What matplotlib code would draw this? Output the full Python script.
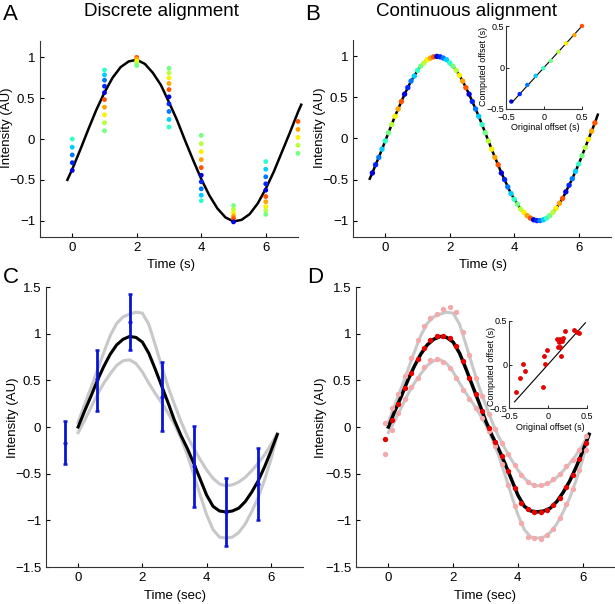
import numpy as np
import matplotlib
matplotlib.use("Agg")
import matplotlib.pyplot as plt

plt.rcParams['font.family'] = ['Liberation Sans', 'DejaVu Sans']

W, H = 615, 604

# ten shifted copies of the signal, one jet colour each
offsets = [-0.4, -0.3, -0.2, -0.1, 0.0, 0.1, 0.2, 0.3, 0.4, 0.5]
jet = plt.cm.jet(np.linspace(0.08, 0.82, len(offsets)))

# --- A: discrete alignment ---
a_line_t = [-0.15, 0, 0.25, 0.5, 0.75, 1.0, 1.25, 1.5, 1.75, 2.0, 2.25, 2.5, 2.75,
            3.0, 3.25, 3.5, 3.75, 4.0, 4.25, 4.5, 4.75, 5.0, 5.25, 5.5, 5.75,
            6.0, 6.25, 6.5, 6.75, 7.0, 7.1]
a_line_y = [-0.50, -0.37, -0.13, 0.12, 0.36, 0.57, 0.75, 0.88, 0.95, 0.97, 0.92,
            0.81, 0.66, 0.45, 0.23, -0.02, -0.26, -0.49, -0.69, -0.85, -0.96,
            -1.01, -0.99, -0.92, -0.79, -0.61, -0.40, -0.16, 0.08, 0.33, 0.42]
a_times = [0, 1, 2, 3, 4, 5, 6, 7]
a_vals = [
    [0.00, -0.10, -0.195, -0.29, -0.385],
    [0.845, 0.785, 0.72, 0.646, 0.568, 0.483, 0.39, 0.296, 0.199, 0.101],
    [1.00, 0.98, 0.955, 0.93, 0.90],
    [0.866, 0.809, 0.748, 0.68, 0.605, 0.516, 0.43, 0.337, 0.239, 0.146],
    [0.044, -0.057, -0.155, -0.252, -0.35, -0.444, -0.524, -0.61, -0.688, -0.756],
    [-0.815, -0.86, -0.905, -0.945, -0.975, -1.015],
    [-0.277, -0.37, -0.463, -0.549, -0.627, -0.704, -0.768, -0.829, -0.878, -0.923],
    [0.215, 0.117, 0.02, -0.078, -0.176],
]
a_cidx = [
    [4, 3, 2, 1, 0],
    [4, 3, 2, 1, 0, 9, 8, 7, 6, 5],
    [9, 8, 7, 6, 5],
    [5, 6, 7, 8, 9, 0, 1, 2, 3, 4],
    [5, 6, 7, 8, 9, 0, 1, 2, 3, 4],
    [5, 6, 7, 8, 9, 0],
    [4, 3, 2, 1, 0, 9, 8, 7, 6, 5],
    [9, 8, 7, 6, 5],
]

# --- B: continuous alignment ---
b_times = [0, 1, 2, 3, 4, 5, 6]
b_dot_y = [
    -0.42, -0.32, -0.23, -0.13, -0.03, 0.07, 0.17, 0.27, 0.36, 0.45,
    0.54, 0.62, 0.70, 0.76, 0.83, 0.88, 0.92, 0.96, 0.98, 0.995,
    1.00, 0.995, 0.98, 0.96, 0.92, 0.88, 0.83, 0.77, 0.70, 0.62,
    0.54, 0.45, 0.36, 0.27, 0.17, 0.07, -0.03, -0.13, -0.23, -0.32,
    -0.42, -0.50, -0.59, -0.67, -0.74, -0.80, -0.86, -0.90, -0.94, -0.97,
    -0.99, -1.00, -1.00, -0.99, -0.97, -0.94, -0.90, -0.85, -0.79, -0.73,
    -0.65, -0.57, -0.49, -0.40, -0.31, -0.21, -0.11, -0.01, 0.09, 0.19,
]
b_start = (-0.48, -0.49)
b_end = (6.59, 0.29)
b_orig = [-0.43, -0.32, -0.22, -0.11, -0.01, 0.09, 0.19, 0.29, 0.40, 0.50]
b_comp = [-0.41, -0.32, -0.21, -0.10, -0.01, 0.08, 0.19, 0.29, 0.39, 0.50]

# --- C / D: shared mean and bounds ---
grid_t = [0.0, 0.2, 0.4, 0.6, 0.8, 1.0, 1.2, 1.4, 1.6, 1.8, 2.0, 2.2, 2.4, 2.6,
          2.8, 3.0, 3.2, 3.4, 3.6, 3.8, 4.0, 4.2, 4.4, 4.6, 4.8, 5.0, 5.2, 5.4,
          5.6, 5.8, 6.0, 6.2]
mean_y = [0.00, 0.17, 0.33, 0.50, 0.65, 0.78, 0.88, 0.94, 0.97, 0.96, 0.91, 0.79,
          0.62, 0.44, 0.26, 0.07, -0.09, -0.23, -0.39, -0.56, -0.73, -0.85, -0.90,
          -0.91, -0.90, -0.87, -0.80, -0.70, -0.58, -0.43, -0.26, -0.08]
upper_y = [0.05, 0.24, 0.42, 0.61, 0.80, 0.98, 1.11, 1.18, 1.21, 1.23, 1.22, 1.10,
           0.88, 0.65, 0.43, 0.24, 0.06, -0.10, -0.23, -0.35, -0.46, -0.55, -0.61,
           -0.63, -0.62, -0.59, -0.54, -0.47, -0.39, -0.30, -0.19, -0.07]
lower_y = [-0.06, 0.07, 0.21, 0.35, 0.47, 0.57, 0.66, 0.71, 0.72, 0.68, 0.59, 0.47,
           0.36, 0.26, 0.15, 0.03, -0.12, -0.30, -0.51, -0.73, -0.94, -1.10, -1.18,
           -1.19, -1.18, -1.13, -1.04, -0.91, -0.76, -0.57, -0.35, -0.08]

c_bar_t = [-0.4, 0.6, 1.6, 2.6, 3.6, 4.6, 5.6]
c_bar_mid = [-0.17, 0.51, 1.12, 0.32, -0.42, -0.91, -0.61]
c_bar_lo = [-0.40, 0.17, 0.82, -0.04, -0.86, -1.27, -1.00]
c_bar_hi = [0.06, 0.83, 1.42, 0.70, 0.01, -0.55, -0.22]

d_dot_t = [-0.1, 0.1, 0.3, 0.5, 0.7, 0.9, 1.1, 1.3, 1.5, 1.7, 1.9, 2.1, 2.3, 2.5,
           2.7, 2.9, 3.1, 3.3, 3.5, 3.7, 3.9, 4.1, 4.3, 4.5, 4.7, 4.9, 5.1, 5.3,
           5.5, 5.7, 5.9, 6.1]
d_red = [-0.13, 0.08, 0.25, 0.42, 0.58, 0.73, 0.85, 0.93, 0.97, 0.97, 0.95, 0.87,
         0.71, 0.53, 0.35, 0.17, -0.01, -0.16, -0.31, -0.47, -0.65, -0.81, -0.88,
         -0.91, -0.91, -0.89, -0.84, -0.76, -0.64, -0.51, -0.34, -0.17]
d_up = [0.04, 0.20, 0.35, 0.55, 0.74, 0.93, 1.08, 1.17, 1.21, 1.26, 1.29, 1.23,
        1.02, 0.77, 0.53, 0.33, 0.14, -0.02, -0.17, -0.29, -0.41, -0.51, -0.59,
        -0.62, -0.62, -0.60, -0.56, -0.50, -0.42, -0.35, -0.25, -0.10]
d_lo = [-0.29, -0.03, 0.155, 0.30, 0.43, 0.53, 0.64, 0.72, 0.73, 0.70, 0.63, 0.52,
        0.40, 0.30, 0.20, 0.10, -0.04, -0.20, -0.40, -0.62, -0.85, -1.03, -1.18,
        -1.19, -1.20, -1.16, -1.09, -0.98, -0.83, -0.66, -0.46, -0.25]

d_orig = [-0.41, -0.36, -0.32, -0.30, -0.07, -0.05, -0.04, -0.01, 0.12, 0.13,
          0.14, 0.15, 0.16, 0.17, 0.18, 0.19, 0.22, 0.33, 0.37, 0.40]
d_comp = [-0.32, -0.16, 0.01, -0.07, -0.26, 0.10, 0.01, 0.17, 0.29, 0.20,
          0.26, 0.29, 0.20, 0.10, 0.27, 0.31, 0.39, 0.40, 0.37, 0.36]

yt_ab = [-1, -0.5, 0, 0.5, 1]
yl_ab = ['\u22121', '\u22120.5', '0', '0.5', '1']
yt_cd = [-1.5, -1, -0.5, 0, 0.5, 1, 1.5]
yl_cd = ['\u22121.5', '\u22121', '\u22120.5', '0', '0.5', '1', '1.5']
it = [-0.5, 0, 0.5]
il = ['\u22120.5', '0', '0.5']

fig = plt.figure(figsize=(W / 100, H / 100), dpi=100)


def add_axes(l, t, r, b):
    return fig.add_axes([l / W, 1 - b / H, (r - l) / W, (b - t) / H])


def style(ax, fs=9.5, inset=False):
    ax.spines[['top', 'right']].set_visible(False)
    ax.spines[['left', 'bottom']].set_linewidth(0.8)
    ax.spines[['left', 'bottom']].set_color('#333333')
    ax.patch.set_alpha(0)
    if inset:
        ax.tick_params(direction='in', length=2, width=0.6, labelsize=fs)
        ax.tick_params(axis='x', pad=3)
        ax.tick_params(axis='y', pad=1)
    else:
        ax.tick_params(direction='in', length=3, width=0.8, labelsize=fs, pad=3.5)


def ftext(x, y, s, **kw):
    fig.text(x / W, 1 - y / H, s, ha='center', va='center', **kw)


axA = add_axes(40, 41, 298, 237)
axB = add_axes(353, 40, 611, 237)
axC = add_axes(46, 287, 303, 567)
axD = add_axes(356, 287, 615, 567)
insB = add_axes(506, 26, 582, 109)
insD = add_axes(509, 321, 587, 408)

# A
axA.plot(a_line_t, a_line_y, color='black', lw=1.8, clip_on=False, zorder=2)
for t, vals, ci in zip(a_times, a_vals, a_cidx):
    axA.scatter([t] * len(vals), vals, s=12, c=[jet[i] for i in ci],
                linewidths=0, zorder=3, clip_on=False)
axA.set_xlim(-1, 7)
axA.set_ylim(-1.2, 1.2)
axA.set_xticks([0, 2, 4, 6])
axA.set_yticks(yt_ab, yl_ab)
style(axA)

# B
b_x, b_c = [], []
for t in b_times:
    for i, o in enumerate(offsets):
        b_x.append(t + o)
        b_c.append(jet[i])
axB.plot([b_start[0]] + b_x + [b_end[0]], [b_start[1]] + b_dot_y + [b_end[1]],
         color='black', lw=1.8, zorder=2)
axB.scatter(b_x, b_dot_y, s=15, c=b_c, linewidths=0, zorder=3)
axB.set_xlim(-1, 7)
axB.set_ylim(-1.2, 1.2)
axB.set_xticks([0, 2, 4, 6])
axB.set_yticks(yt_ab, yl_ab)
style(axB)

insB.plot([-0.42, 0.5], [-0.42, 0.5], color='black', lw=0.8)
insB.scatter(b_orig, b_comp, s=10, c=list(jet), linewidths=0, zorder=3, clip_on=False)
insB.set_xlim(-0.5, 0.5)
insB.set_ylim(-0.5, 0.5)
insB.set_xticks(it, il)
insB.set_yticks(it, il)
style(insB, 6.5, inset=True)

# C
axC.plot(grid_t, upper_y, color='#c8c8c8', lw=2.2)
axC.plot(grid_t, lower_y, color='#c8c8c8', lw=2.2)
axC.plot(grid_t, mean_y, color='black', lw=2.2)
c_err = [np.subtract(c_bar_mid, c_bar_lo), np.subtract(c_bar_hi, c_bar_mid)]
axC.errorbar(c_bar_t, c_bar_mid, yerr=c_err, fmt='.', color='#0a14d6', ms=4,
             elinewidth=2.0, capsize=1.5, capthick=1.8, zorder=4)
axC.set_xlim(-1, 7)
axC.set_ylim(-1.5, 1.5)
axC.set_xticks([0, 2, 4, 6])
axC.set_yticks(yt_cd, yl_cd)
style(axC)

# D
axD.plot(grid_t, upper_y, color='#c8c8c8', lw=2.2)
axD.plot(grid_t, lower_y, color='#c8c8c8', lw=2.2)
axD.plot(grid_t, mean_y, color='black', lw=2.5)
axD.scatter(d_dot_t, d_up, s=15, color='#f4aaaa', linewidths=0, zorder=3)
axD.scatter(d_dot_t, d_lo, s=15, color='#f4aaaa', linewidths=0, zorder=3)
axD.scatter(d_dot_t, d_red, s=15, color='#e60000', linewidths=0, zorder=4)
axD.set_xlim(-1, 7)
axD.set_ylim(-1.5, 1.5)
axD.set_xticks([0, 2, 4, 6])
axD.set_yticks(yt_cd, yl_cd)
style(axD)

insD.plot([-0.43, 0.48], [-0.43, 0.48], color='black', lw=0.8)
insD.scatter(d_orig, d_comp, s=12, color='#e60000', linewidths=0, zorder=3)
insD.set_xlim(-0.5, 0.5)
insD.set_ylim(-0.5, 0.5)
insD.set_xticks(it, il)
insD.set_yticks(it, il)
style(insD, 6.5, inset=True)

# labels
ftext(10, 15, 'A', fontsize=16)
ftext(313, 15, 'B', fontsize=16)
ftext(11, 277, 'C', fontsize=16)
ftext(315, 277, 'D', fontsize=16)
ftext(161, 11, 'Discrete alignment', fontsize=13.5)
ftext(466, 11, 'Continuous alignment', fontsize=13.5)

ftext(7, 128, 'Intensity (AU)', rotation=90, fontsize=9.5)
ftext(320, 128, 'Intensity (AU)', rotation=90, fontsize=9.5)
ftext(13, 418, 'Intensity (AU)', rotation=90, fontsize=9.5)
ftext(321, 418, 'Intensity (AU)', rotation=90, fontsize=9.5)
ftext(171, 265, 'Time (s)', fontsize=9.5)
ftext(483, 265, 'Time (s)', fontsize=9.5)
ftext(175, 596, 'Time (sec)', fontsize=9.5)
ftext(485, 596, 'Time (sec)', fontsize=9.5)

ftext(484, 66, 'Computed offset (s)', rotation=90, fontsize=6.5)
ftext(545, 127, 'Original offset (s)', fontsize=6.5)
ftext(491, 366, 'Computed offset (s)', rotation=90, fontsize=6.5)
ftext(550, 427, 'Original offset (s)', fontsize=6.5)

fig.savefig('out.png', dpi=100)
